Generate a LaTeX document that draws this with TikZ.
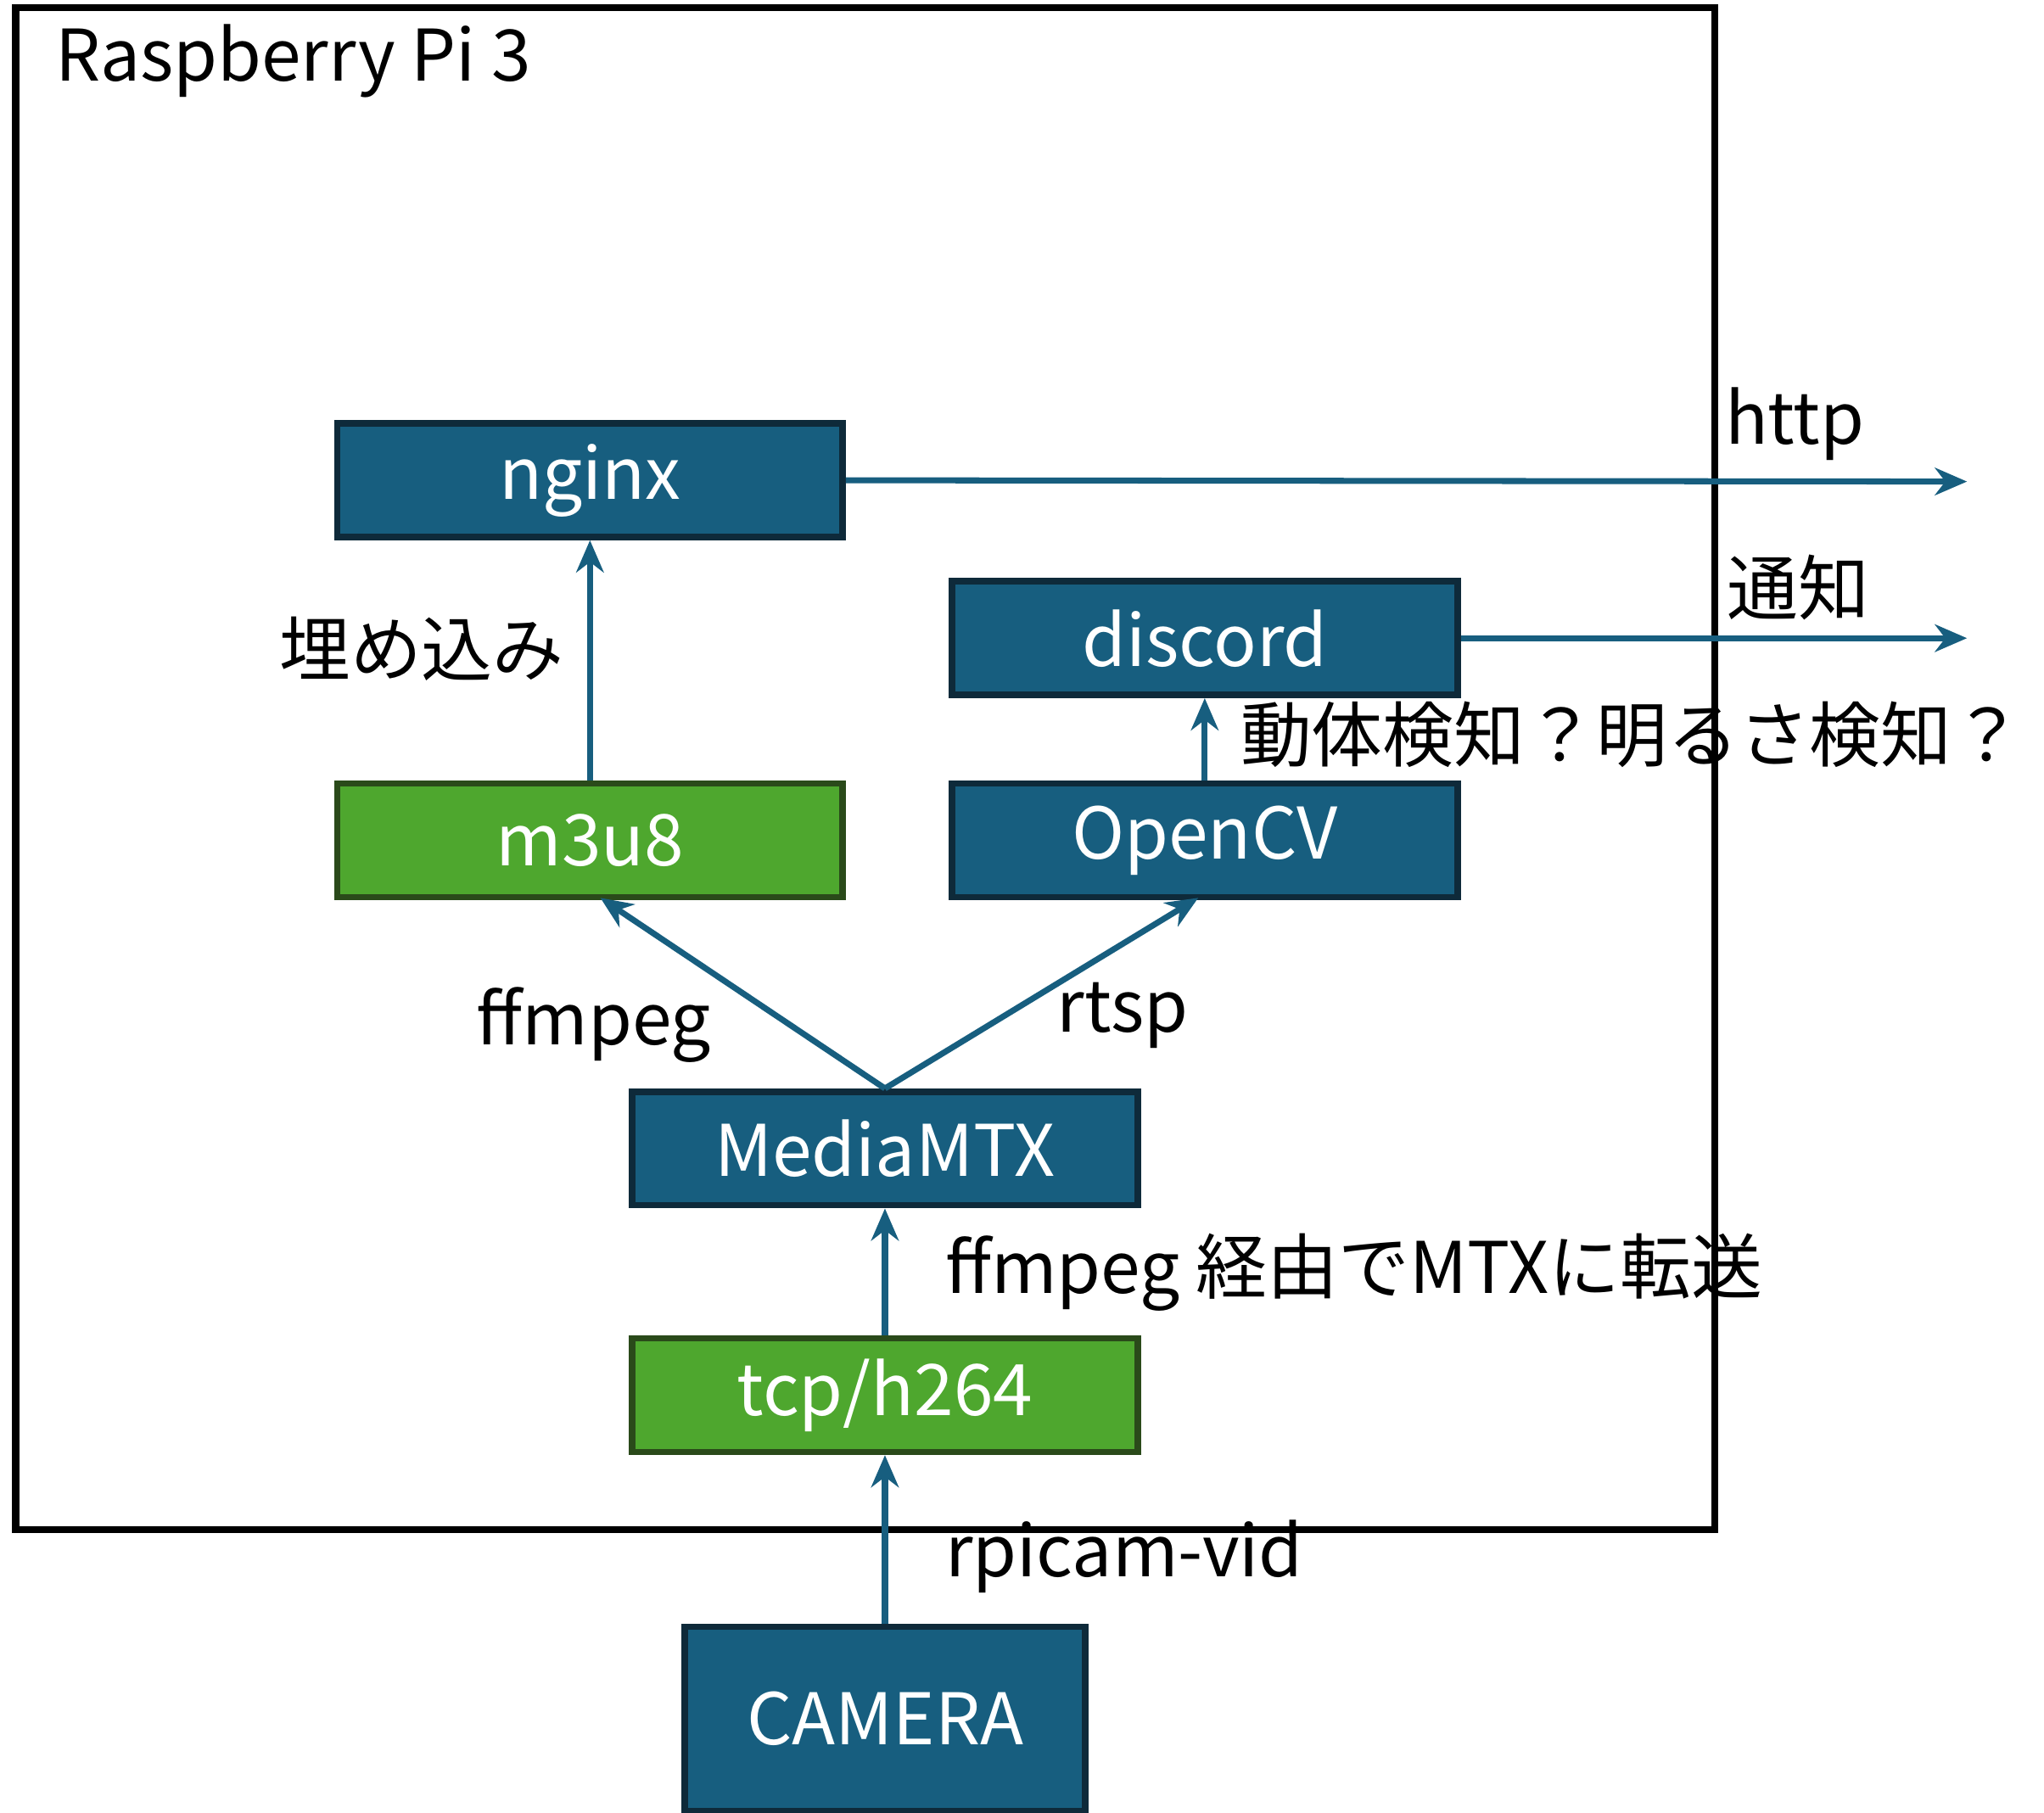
\documentclass[tikz,border=0pt]{standalone}
\usepackage{fontspec}
\setmainfont{Noto Sans CJK JP}
\usetikzlibrary{arrows.meta}
\definecolor{boxblue}{HTML}{175E7F}
\definecolor{boxgreen}{HTML}{4EA72E}
\definecolor{edgeblue}{HTML}{0E2A3A}
\definecolor{edgegreen}{HTML}{2A4A1A}
\tikzset{
  blk/.style={draw=edgeblue, fill=boxblue, line width=1.4pt, text=white, minimum width=3.87cm, minimum height=0.87cm, font=\fontsize{15.5}{18}\selectfont},
  gblk/.style={blk, draw=edgegreen, fill=boxgreen},
  flow/.style={draw=boxblue, line width=1.3pt, -{Stealth[length=7pt,width=6pt]}},
  lbl/.style={font=\fontsize{15.5}{18}\selectfont}
}
\begin{document}
\begin{tikzpicture}[x=0.01cm, y=-0.01cm]
  \useasboundingbox (0,0) rectangle (1566,1389);
  % frame
  \draw[line width=1.5pt] (12,6) rectangle (1314,1172);
  \node[lbl, anchor=west] (pi) at (30,47) {Raspberry Pi 3};
  % boxes
  \node[blk] (nginx) at (452,368) {nginx};
  \node[blk] (discord) at (923,489) {discord};
  \node[gblk] (m3u8) at (452,644) {m3u8};
  \node[blk] (opencv) at (923,644) {OpenCV};
  \node[blk] (mtx) at (678,880) {MediaMTX};
  \node[gblk] (tcp) at (678,1069) {tcp/h264};
  \node[blk, minimum width=3.07cm, minimum height=1.41cm] (cam) at (678,1317) {CAMERA};
  % outputs
  \coordinate (httpout) at (1507,369);
  \coordinate (notifout) at (1507,489);
  % connectors
  \draw[flow] (nginx.east) -- (httpout);
  \draw[flow] (discord.east) -- (notifout);
  \draw[flow] (m3u8.north) -- (nginx.south);
  \draw[flow] (opencv.north) -- (discord.south);
  \draw[flow] (mtx.north) -- (460,688);
  \draw[flow] (mtx.north) -- (918,688);
  \draw[flow] (tcp.north) -- (mtx.south);
  \draw[flow] (cam.north) -- (tcp.south);
  % labels
  \node[lbl] (http) at (1375,325) {http};
  \node[lbl] (notif) at (1378,450) {通知};
  \node[lbl] (embed) at (323,497) {埋め込み};
  \node[lbl, anchor=west] (detect) at (938,563) {動体検知？明るさ検知？};
  \node[lbl] (ffm) at (455,785) {ffmpeg};
  \node[lbl] (rtsp) at (860,778) {rtsp};
  \node[lbl, anchor=west] (fwd) at (712,975) {ffmpeg 経由でMTXに転送};
  \node[lbl, anchor=west] (vid) at (712,1193) {rpicam-vid};
\end{tikzpicture}
\end{document}
